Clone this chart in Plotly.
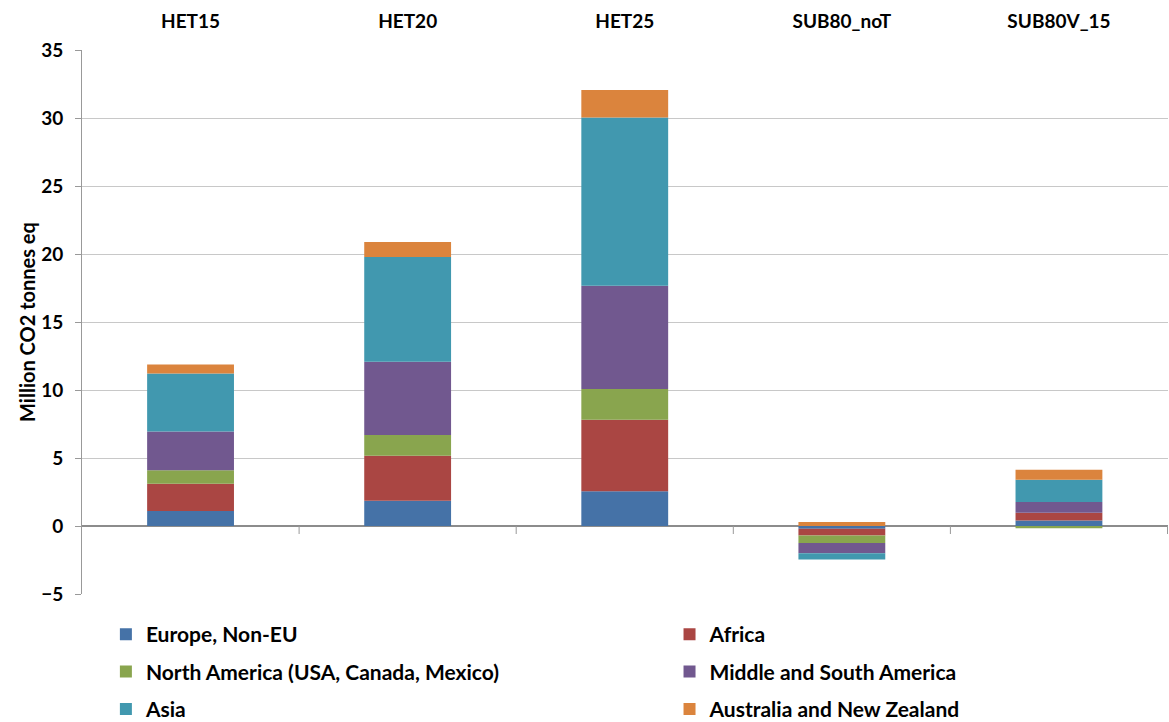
import plotly.graph_objects as go

scenarios = ["HET15", "HET20", "HET25", "SUB80_noT", "SUB80V_15"]

europe_non_eu = [1.10, 1.86, 2.55, -0.20, 0.40]
africa = [2.00, 3.31, 5.27, -0.50, 0.57]
north_america = [1.00, 1.52, 2.25, -0.55, -0.17]
middle_south_america = [2.85, 5.39, 7.60, -0.75, 0.80]
asia = [4.27, 7.70, 12.36, -0.47, 1.63]
australia_nz = [0.66, 1.10, 2.03, 0.30, 0.74]

# (name, values, colour, legend column)
series = [
    ("Europe, Non-EU", europe_non_eu, "#4572A7", "legend"),
    ("Africa", africa, "#AA4643", "legend2"),
    ("North America (USA, Canada, Mexico)", north_america, "#89A54E", "legend"),
    ("Middle and South America", middle_south_america, "#71588F", "legend2"),
    ("Asia", asia, "#4198AF", "legend"),
    ("Australia and New Zealand", australia_nz, "#DB843D", "legend2"),
]

FONT = "Lato"
legend_font = dict(family=FONT, size=21, color="black", weight="bold")

fig = go.Figure()
for name, vals, color, leg in series:
    fig.add_trace(go.Bar(
        x=scenarios, y=vals, name=name,
        marker=dict(color=color, line=dict(width=0)),
        width=0.4, legend=leg, legendgroup=name,
    ))

# category boundary ticks hanging below the zero line
for b in [0.5, 1.5, 2.5, 3.5, 4.5]:
    fig.add_shape(type="line", xref="x", yref="y", x0=b, x1=b,
                  ysizemode="pixel", yanchor=0, y0=0, y1=-8,
                  line=dict(color="#999999", width=1))

legend_common = dict(
    orientation="v", yanchor="top", y=-0.037, xanchor="left",
    font=legend_font, tracegroupgap=7, traceorder="grouped",
    bgcolor="rgba(0,0,0,0)",
)

fig.update_layout(
    width=1169, height=722,
    margin=dict(l=82, r=1, t=50, b=128, autoexpand=False),
    paper_bgcolor="white", plot_bgcolor="white",
    barmode="relative",
    font=dict(family=FONT, size=17, color="black"),
    showlegend=True,
    legend=dict(x=0.022, **legend_common),
    legend2=dict(x=0.541, **legend_common),
    xaxis=dict(
        side="top", showline=False, ticks="", showgrid=False,
        tickfont=dict(family=FONT, size=19, weight="bold"),
        ticklabelstandoff=17,
    ),
    yaxis=dict(
        range=[-5, 35], dtick=5, showline=True, linecolor="#999999",
        linewidth=1, ticks="outside", ticklen=6, tickcolor="#999999",
        showgrid=True, gridcolor="#c8c8c8", gridwidth=1,
        zeroline=True, zerolinecolor="#8c8c8c", zerolinewidth=1.5,
        tickfont=dict(family=FONT, size=19, weight="bold"),
        ticklabelstandoff=8,
        title=dict(text="Million CO2 tonnes eq",
                   font=dict(family=FONT, size=20, weight="bold"), standoff=0),
    ),
)

fig.write_html("out.html")
